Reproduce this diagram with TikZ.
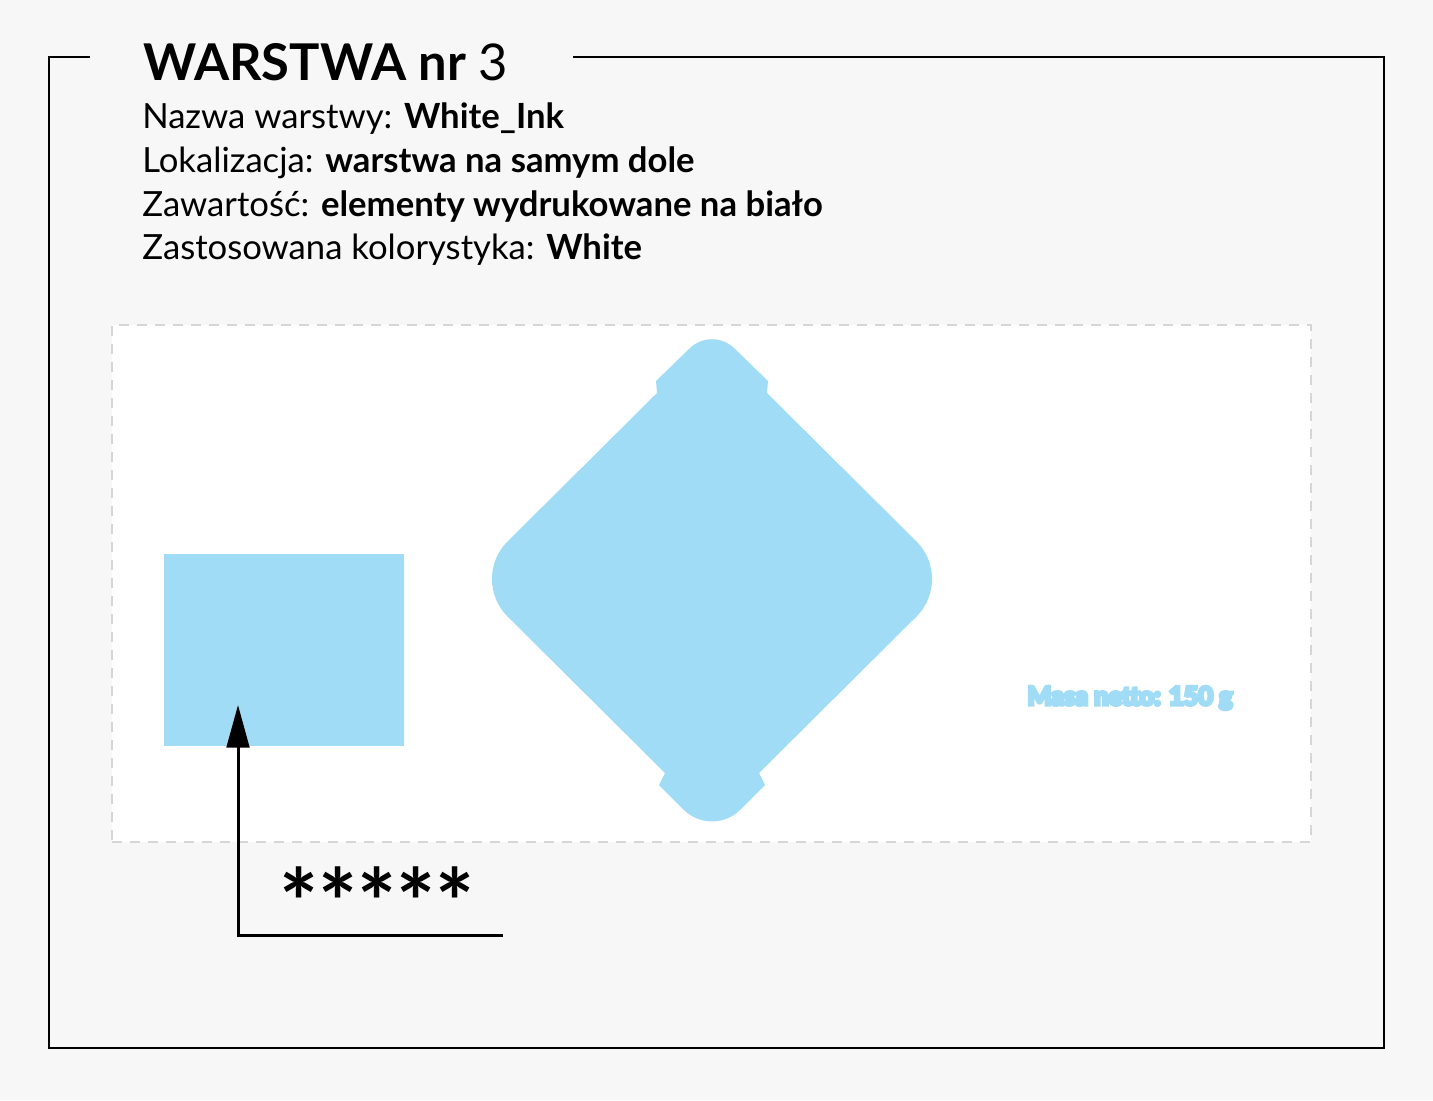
\documentclass[tikz,border=0pt]{standalone}
\usepackage{fontspec}
\setmainfont{Lato}
\usetikzlibrary{arrows.meta}
\definecolor{bg}{HTML}{F7F7F7}
\definecolor{inkblue}{RGB}{160,220,246}
\definecolor{dashgray}{HTML}{D6D6D6}
\tikzset{
  frameline/.style={line width=1.5pt, black},
  infotext/.style={anchor=base west, inner sep=0pt, font=\fontsize{26}{31}\selectfont},
  inkfill/.style={fill=inkblue, draw=none},
  pointer/.style={line width=2.25pt, black, -{Triangle[length=32pt,width=17pt]}},
}
\begin{document}
\begin{tikzpicture}[x=0.75pt,y=-0.75pt]
\useasboundingbox (0,0) rectangle (1433,1100);
\fill[bg] (0,0) rectangle (1433,1100);
% frame with gap for title
\draw[frameline] (90,57) -- (49,57) -- (49,1048) -- (1384,1048) -- (1384,57) -- (573,57);
% title and description
\node[anchor=base west, inner sep=0pt, font=\fontsize{38}{44}\selectfont] (title) at (143,80) {\textbf{WARSTWA nr} 3};
\node[infotext] (l1) at (142,128) {Nazwa warstwy: \textbf{White\_Ink}};
\node[infotext] (l2) at (142,172) {Lokalizacja: \textbf{warstwa na samym dole}};
\node[infotext] (l3) at (142,216) {Zawartość: \textbf{elementy wydrukowane na biało}};
\node[infotext] (l4) at (142,259) {Zastosowana kolorystyka: \textbf{White}};
% dashed panel
\node[draw=dashgray, fill=white, line width=1.5pt, dash pattern=on 7.5pt off 6pt,
      minimum width=899.25pt, minimum height=387.75pt, inner sep=0pt] (panel) at (711.5,583.5) {};
% blue rectangle
\node[inkfill, inner sep=0pt, minimum width=180pt, minimum height=144pt] (rect) at (284,650) {};
% diamond shape
\fill[inkblue] (507.5,541.5) -- (657,393) -- (656,381) -- (689.4,348.6)
  .. controls (701.9,336.1) and (722.1,336.1) .. (734.6,348.6)
  -- (768,381) -- (767,393) -- (916.5,541.5)
  .. controls (937.2,562.2) and (937.2,595.8) .. (916.5,616.5)
  -- (759,773) -- (765,785) -- (740.3,809.7)
  .. controls (724.7,825.3) and (699.3,825.3) .. (683.7,809.7)
  -- (659,785) -- (665,773) -- (507.5,616.5)
  .. controls (486.8,595.8) and (486.8,562.2) .. (507.5,541.5) -- cycle;
% net mass text
\node[text=inkblue, inner sep=0pt, font=\bfseries\fontsize{19}{22}\selectfont] (masa) at (1130,698)
  {\special{pdf:literal direct 2 Tr 2.6 w}Masa netto: 150 g\special{pdf:literal direct 0 Tr 1 w}};
% pointer
\coordinate (lineend) at (503,935);
\coordinate (corner) at (238,935);
\coordinate (tip) at (238,705);
\draw[pointer] (lineend) -- (corner) -- (tip);
\node[inner sep=0pt, font=\bfseries\fontsize{69}{69}\selectfont] (stars) at (377,902) {*****};
\end{tikzpicture}
\end{document}
